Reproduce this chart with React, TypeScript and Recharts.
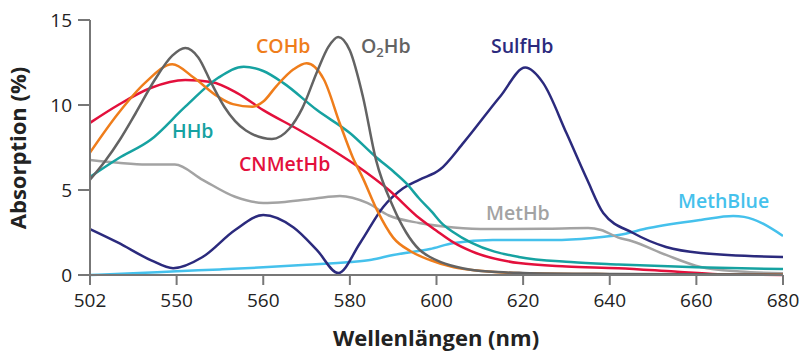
import React from 'react';
import { LineChart, Line, XAxis, YAxis } from 'recharts';

// wavelengths (nm) and absorption (%) per substance
const o2hbNm = [520, 523.5, 527, 530.5, 535, 539, 542, 545, 548, 551, 556, 562, 566, 569, 572.5, 575, 577.3, 580, 583, 586, 590, 593, 596, 598.5, 601, 606, 612, 620, 640, 680];
const o2hbVal = [5.6, 6.7, 8.0, 9.5, 11.5, 12.9, 13.35, 12.8, 11.3, 9.9, 8.5, 8.0, 8.6, 9.8, 12.0, 13.4, 14.0, 13.2, 10.5, 6.8, 4.0, 2.5, 1.5, 1.06, 0.76, 0.4, 0.2, 0.12, 0.06, 0.02];

const cohbNm = [520, 526.5, 532.7, 539, 544, 549.5, 553, 557.5, 560, 563, 567, 570, 574, 577.7, 580.7, 583, 586.3, 590, 594, 598.5, 604, 610, 620, 640, 680];
const cohbVal = [7.2, 9.5, 11.3, 12.4, 11.6, 10.5, 10.05, 9.9, 10.2, 11.1, 12.1, 12.45, 11.5, 8.9, 6.9, 5.7, 3.8, 2.2, 1.4, 0.88, 0.45, 0.25, 0.1, 0.05, 0.02];

const cnmethbNm = [520, 526.5, 534, 542, 548, 554, 560, 568.5, 576, 582, 589, 596, 600, 604, 608, 619, 630, 642, 655, 665, 680];
const cnmethbVal = [8.95, 10.0, 11.0, 11.47, 11.35, 10.7, 9.7, 8.5, 7.35, 6.35, 5.0, 3.35, 2.6, 1.9, 1.4, 0.7, 0.5, 0.4, 0.2, 0.05, 0];

const hhbNm = [520, 526.5, 534, 542, 549.6, 555.5, 560, 564.6, 572.4, 580, 586, 590, 593, 596, 599, 601, 604, 608, 619, 631, 642, 660, 680];
const hhbVal = [5.76, 6.85, 7.95, 9.9, 11.6, 12.25, 12.0, 11.3, 9.7, 8.35, 6.94, 6.1, 5.4, 4.5, 3.7, 3.1, 2.5, 1.9, 1.06, 0.76, 0.62, 0.45, 0.35];

const methbNm = [520, 526.5, 533, 539.6, 546, 553.5, 560, 565, 572, 577.7, 584, 589, 596, 604, 612, 625, 635, 638, 642, 645, 653, 661, 670, 680];
const methbVal = [6.76, 6.6, 6.5, 6.5, 5.6, 4.6, 4.24, 4.3, 4.5, 4.65, 4.24, 3.5, 3.06, 2.8, 2.7, 2.72, 2.76, 2.65, 2.2, 2.0, 1.18, 0.47, 0.2, 0.1];

const sulfhbNm = [520, 526.5, 534, 539.2, 546, 553.5, 560, 567, 572.4, 577.3, 582.4, 587.7, 592.3, 596, 600.8, 606.3, 614.7, 620.5, 624.6, 630, 634.8, 638.5, 645.4, 653, 661, 680];
const sulfhbVal = [2.7, 1.9, 0.88, 0.4, 1.06, 2.65, 3.53, 2.8, 1.47, 0.12, 1.9, 4.0, 5.1, 5.6, 6.2, 7.8, 10.5, 12.2, 11.3, 8.35, 5.6, 3.65, 2.47, 1.65, 1.3, 1.06];

const methblueNm = [520, 530, 540, 550, 560, 570, 580, 585, 590, 598.5, 604, 613, 627, 636, 642, 649, 661, 668.5, 671, 680];
const methblueVal = [0, 0.1, 0.22, 0.33, 0.45, 0.6, 0.76, 0.9, 1.18, 1.53, 1.88, 2.06, 2.06, 2.18, 2.35, 2.76, 3.24, 3.47, 3.42, 2.3];

const xTicks = [520, 540, 560, 580, 600, 620, 640, 660, 680];
const xTickLabels = ['502', '550', '560', '580', '600', '620', '640', '660', '680'];
const yTicks = [0, 5, 10, 15];

const zip = (xs: number[], ys: number[]) => xs.map((x, i) => ({ x, v: ys[i] }));

const series = [
  { name: 'MethBlue', data: zip(methblueNm, methblueVal), color: '#45c1ec' },
  { name: 'MetHb', data: zip(methbNm, methbVal), color: '#a3a3a3' },
  { name: 'SulfHb', data: zip(sulfhbNm, sulfhbVal), color: '#2b2a7d' },
  { name: 'CNMetHb', data: zip(cnmethbNm, cnmethbVal), color: '#e3103c' },
  { name: 'HHb', data: zip(hhbNm, hhbVal), color: '#16a2a1' },
  { name: 'COHb', data: zip(cohbNm, cohbVal), color: '#ef7d1b' },
  { name: 'O2Hb', data: zip(o2hbNm, o2hbVal), color: '#636363' },
];

const FONT = '"Open Sans", "Noto Sans", sans-serif';
const axisColor = '#777777';
const tickStyle = { fill: '#222', fontSize: 19, fontFamily: FONT };

export default function App() {
  return (
    <div style={{ position: 'relative', width: 801, height: 352 }}>
      <style>{'body{margin:0}'}</style>
      <LineChart width={801} height={352} margin={{ top: 20, right: 18, bottom: 47, left: 0 }}>
        <XAxis
          type="number"
          dataKey="x"
          domain={[520, 680]}
          ticks={xTicks}
          tickFormatter={(v: number) => xTickLabels[xTicks.indexOf(v)]}
          allowDataOverflow
          height={30}
          tickSize={10}
          tickMargin={9}
          stroke={axisColor}
          strokeWidth={2}
          tick={tickStyle}
        />
        <YAxis
          type="number"
          domain={[0, 15]}
          ticks={yTicks}
          width={90}
          tickSize={12}
          tickMargin={6}
          stroke={axisColor}
          strokeWidth={2}
          tick={tickStyle}
        />
        {series.map((s) => (
          <Line
            key={s.name}
            data={s.data}
            dataKey="v"
            type="monotone"
            stroke={s.color}
            strokeWidth={2.5}
            dot={false}
            isAnimationActive={false}
          />
        ))}
      </LineChart>
      <svg
        width={801}
        height={352}
        style={{ position: 'absolute', left: 0, top: 0, pointerEvents: 'none' }}
        fontFamily={FONT}
        fontWeight={600}
        fontSize={19.5}
      >
        <text x={256} y={53} fill="#ef7d1b">COHb</text>
        <text x={361} y={53} fill="#636363">
          O<tspan fontSize={13} dy={4}>2</tspan><tspan dy={-4}>Hb</tspan>
        </text>
        <text x={491} y={53} fill="#2b2a7d">SulfHb</text>
        <text x={172} y={138} fill="#16a2a1">HHb</text>
        <text x={239} y={171} fill="#e3103c">CNMetHb</text>
        <text x={486} y={220} fill="#a3a3a3">MetHb</text>
        <text x={678} y={208} fill="#45c1ec">MethBlue</text>
        <text x={436} y={346} textAnchor="middle" fill="#222" fontWeight={700} fontSize={22}>
          Wellenlängen (nm)
        </text>
        <text
          x={0}
          y={0}
          transform="translate(26,148) rotate(-90)"
          textAnchor="middle"
          fill="#222"
          fontWeight={700}
          fontSize={22}
        >
          Absorption (%)
        </text>
      </svg>
    </div>
  );
}
